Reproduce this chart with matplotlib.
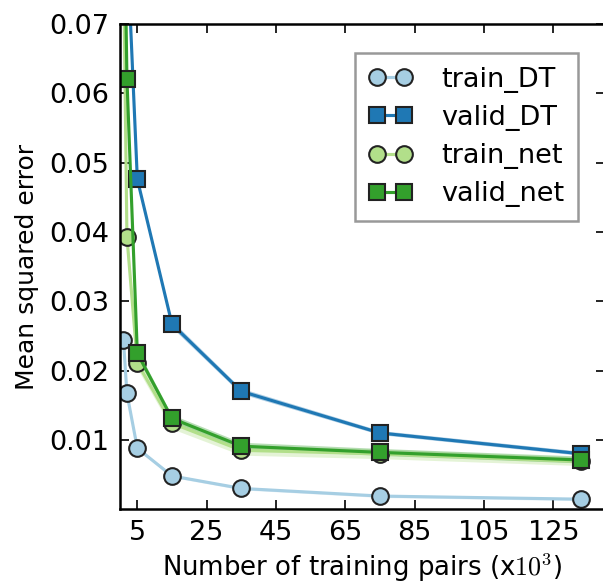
import numpy as np
import matplotlib
matplotlib.use('Agg')
import matplotlib.pyplot as plt

# training set sizes (x10^3) and mean squared error per model
pairs = [1, 2, 5, 15, 35, 75, 133]
train_dt = [0.0244, 0.0167, 0.0088, 0.0048, 0.0030, 0.0019, 0.00145]
valid_dt = [0.115, 0.082, 0.0476, 0.0267, 0.0170, 0.0110, 0.0080]
train_net = [0.080, 0.0393, 0.0211, 0.0124, 0.0085, 0.0080, 0.0069]
valid_net = [0.095, 0.0621, 0.0225, 0.0131, 0.0091, 0.0082, 0.0071]

# spread over repeated runs
train_dt_sd = [0.0003, 0.0003, 0.0002, 0.0002, 0.0002, 0.0002, 0.0002]
valid_dt_sd = [0.0008, 0.0006, 0.0005, 0.0005, 0.0004, 0.0003, 0.0003]
train_net_sd = [0.0012, 0.0010, 0.0008, 0.0008, 0.0007, 0.0007, 0.0006]
valid_net_sd = [0.0010, 0.0008, 0.0006, 0.0005, 0.0005, 0.0005, 0.0005]

xticks = [5, 25, 45, 65, 85, 105, 125]
yticks = [0.01, 0.02, 0.03, 0.04, 0.05, 0.06, 0.07]

plt.rcParams['font.family'] = 'DejaVu Sans'
plt.rcParams['font.size'] = 12
plt.rcParams['mathtext.fontset'] = 'cm'

fig = plt.figure(figsize=(6.03 / 1.5, 5.86 / 1.5), dpi=150)
ax = fig.add_axes([0.199, 0.131, 0.805, 0.828])

series = [
    ('train_DT', train_dt, train_dt_sd, '#a6cee3', 'o'),
    ('valid_DT', valid_dt, valid_dt_sd, '#1f78b4', 's'),
    ('train_net', train_net, train_net_sd, '#b2df8a', 'o'),
    ('valid_net', valid_net, valid_net_sd, '#33a02c', 's'),
]

x = np.array(pairs)
for name, vals, sd, col, mk in series:
    v = np.array(vals)
    s = np.array(sd)
    ax.fill_between(x, v - s, v + s, color=col, alpha=0.35, lw=0)
    ax.plot(x, v, color=col, lw=1.5, marker=mk, markersize=8,
            markerfacecolor=col, markeredgecolor='#222222',
            markeredgewidth=1.0, label=name)

ax.set_xlim(0, 140)
ax.set_ylim(0, 0.07)
ax.set_xticks(xticks)
ax.set_yticks(yticks)
ax.set_yticklabels(['%.2f' % t for t in yticks])
ax.tick_params(direction='in', length=4.3, width=0.8, top=True, right=True,
               labelsize=13, pad=5)
for sp in ax.spines.values():
    sp.set_linewidth(1.2)

ax.set_xlabel(r'Number of training pairs (x$10^3$)', fontsize=12.5, labelpad=3)
ax.set_ylabel('Mean squared error', fontsize=12, labelpad=5)

leg = ax.legend(loc='upper right', bbox_to_anchor=(0.944, 0.940),
                borderaxespad=0, numpoints=2, handlelength=1.6,
                handletextpad=1.1, labelspacing=0.45, borderpad=0.5,
                fancybox=False, fontsize=13)
leg.get_frame().set_edgecolor('#808080')
leg.get_frame().set_linewidth(1.2)

fig.savefig('out.png', dpi=150)
